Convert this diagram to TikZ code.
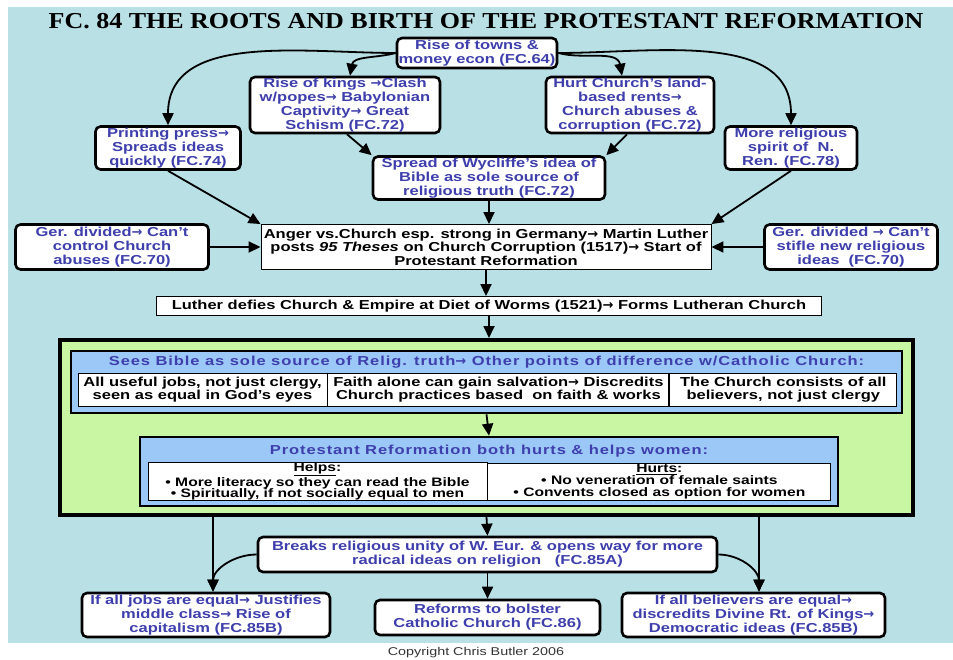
\documentclass[tikz,border=0pt]{standalone}
\usepackage{fontspec}
\setmainfont{Liberation Sans}[FakeStretch=1.27]
\newfontfamily\titlefont{Liberation Serif}[FakeStretch=1.14]
\newfontfamily\widefont{Liberation Sans}[FakeStretch=1.27, LetterSpace=7]
\newfontfamily\arrowfont{DejaVu Sans}
\usetikzlibrary{arrows.meta,positioning}
\definecolor{bgteal}{RGB}{185,224,228}
\definecolor{boxgreen}{RGB}{200,246,162}
\definecolor{boxblue}{RGB}{155,200,246}
\definecolor{inkblue}{RGB}{62,62,172}
\newcommand\bluefont{\bfseries\fontsize{13}{14}\selectfont}
\newcommand\blackfont{\bfseries\fontsize{13}{13.5}\selectfont}
\newcommand\cellfont{\bfseries\fontsize{13}{13.5}\selectfont}
\newcommand\ra{{\arrowfont\bfseries →}}

\begin{document}
\begin{tikzpicture}[x=1pt, y=1pt, >={Triangle[length=12pt,width=11pt]},
	main node/.style={draw, line width=2.6pt, rounded corners=5pt, fill=white, text=inkblue, font=\bluefont, align=center, inner sep=0pt},
	plain node/.style={draw, line width=0.9pt, fill=white, text=black, font=\blackfont, align=center, inner sep=0pt},
	cell node/.style={plain node, font=\cellfont},
	band node/.style={draw, line width=2.6pt, fill=boxblue, inner sep=0pt},
	band title/.style={text=inkblue, font=\widefont\bluefont},
	arrow/.style={->, line width=1.8pt}]
	\useasboundingbox (0,0) rectangle (953,-660);
	\fill[bgteal] (8,-7) rectangle (953,-643);

	\node[font=\titlefont\bfseries\fontsize{22.8}{24}\selectfont] (title) at (486,-21) {FC. 84 THE ROOTS AND BIRTH OF THE PROTESTANT REFORMATION};

	% roots
	\node[main node, minimum width=160pt, minimum height=30pt] (towns) at (477,-53) {Rise of towns \&\\money econ (FC.64)};
	\node[main node, minimum width=190pt, minimum height=56pt] (kings) at (345,-105) {Rise of kings \ra Clash\\w/popes\ra{} Babylonian\\Captivity\ra{} Great\\Schism (FC.72)};
	\node[main node, minimum width=168pt, minimum height=56pt] (hurt) at (630,-105) {Hurt Church's land-\\based rents\ra\\Church abuses \&\\corruption (FC.72)};
	\node[main node, minimum width=145pt, minimum height=43pt] (print) at (168,-148) {Printing press\ra\\Spreads ideas\\quickly (FC.74)};
	\node[main node, minimum width=132pt, minimum height=43pt] (spirit) at (791,-148) {More religious\\spirit of~~N.\\Ren. (FC.78)};
	\node[main node, minimum width=232pt, minimum height=43pt] (wyc) at (489,-178) {Spread of Wycliffe's idea of\\Bible as sole source of\\religious truth (FC.72)};

	% birth
	\node[plain node, minimum width=450pt, minimum height=45pt] (anger) at (486,-247) {Anger vs.Church esp. strong in Germany\ra{} Martin Luther\\posts \textit{95 Theses} on Church Corruption (1517)\ra{} Start of\\Protestant Reformation};
	\node[main node, minimum width=193pt, minimum height=45pt] (gerL) at (112,-247) {Ger. divided\ra{} Can't\\control Church\\abuses (FC.70)};
	\node[main node, minimum width=173pt, minimum height=45pt] (gerR) at (851,-247) {Ger. divided \ra{} Can't\\stifle new religious\\ideas~~(FC.70)};
	\node[plain node, minimum width=665pt, minimum height=19pt] (luther) at (489,-306) {Luther defies Church \& Empire at Diet of Worms (1521)\ra{} Forms Lutheran Church};

	% Lutheran ideas
	\node[draw, line width=4pt, fill=boxgreen, minimum width=853pt, minimum height=175pt] (green) at (486.5,-427.5) {};
	\node[band node, minimum width=831pt, minimum height=62pt] (blueA) at (486.5,-382) {};
	\node[band title] (blueAtitle) at (486.5,-362) {Sees Bible as sole source of Relig. truth\ra{} Other points of difference w/Catholic Church:};
	\node[cell node, minimum width=249pt, minimum height=33pt] (jobsCell) at (202.5,-389.5) {All useful jobs, not just clergy,\\seen as equal in God's eyes};
	\node[cell node, minimum width=341pt, minimum height=33pt, right=0pt of jobsCell] (faithCell) {Faith alone can gain salvation\ra{} Discredits\\Church practices based~ on faith \& works};
	\node[cell node, minimum width=227pt, minimum height=33pt, right=0pt of faithCell] (churchCell) {The Church consists of all\\believers, not just clergy};

	\node[band node, minimum width=698pt, minimum height=69pt] (blueB) at (489,-471.5) {};
	\node[band title] (blueBtitle) at (489,-451) {Protestant Reformation both hurts \& helps women:};
	\node[cell node, minimum width=339pt, minimum height=37pt, font=\bfseries\fontsize{12.3}{11.8}\selectfont] (helps) at (317.5,-481.5) {\underline{Helps}:\\• More literacy so they can read the Bible\\• Spiritually, if not socially equal to men};
	\node[cell node, minimum width=343pt, minimum height=37pt, font=\bfseries\fontsize{12.3}{11.8}\selectfont, right=0pt of helps] (hurts) {\underline{Hurts}:\\• No veneration of female saints\\• Convents closed as option for women};

	% results
	\node[main node, minimum width=459pt, minimum height=35pt] (breaks) at (487.5,-554.5) {Breaks religious unity of W. Eur. \& opens way for more\\radical ideas on religion~~~(FC.85A)};
	\node[main node, minimum width=248pt, minimum height=44pt] (jobs) at (206,-615) {If all jobs are equal\ra{} Justifies\\middle class\ra{} Rise of\\capitalism (FC.85B)};
	\node[main node, minimum width=225pt, minimum height=35pt] (reforms) at (487.5,-617.5) {Reforms to bolster\\Catholic Church (FC.86)};
	\node[main node, minimum width=263pt, minimum height=44pt] (believers) at (753.5,-615) {If all believers are equal\ra\\discredits Divine Rt. of Kings\ra\\Democratic ideas (FC.85B)};

	\node[font=\fontsize{11.3}{12}\selectfont, text=black!80] (copy) at (476,-653) {Copyright Chris Butler 2006};

	\path[arrow]
		(towns.west) edge[out=180, in=90] (print.north)
		(towns.west) edge[out=195, in=80] ([xshift=5pt]kings.north)
		(towns.east) edge[out=0, in=90] (spirit.north)
		(towns.east) edge[out=-15, in=100] ([xshift=-8pt]hurt.north)
		([xshift=2pt]kings.south) edge (wyc.north west)
		([xshift=-3pt]hurt.south) edge (wyc.north east)
		(print.south) edge (anger.north west)
		(spirit.south) edge (anger.north east)
		(wyc.south) edge (wyc.south |- anger.north)
		(gerL) edge (anger)
		(gerR) edge (anger)
		(anger.south) edge (anger.south |- luther.north)
		(luther.south) edge (luther.south |- green.north)
		(blueA.south) edge (blueB.north)
		(green.south) edge (breaks.north)
		(breaks.south) edge (reforms.north)
		([xshift=7pt]jobs.north |- green.south) edge ([xshift=7pt]jobs.north)
		([xshift=5.5pt]believers.north |- green.south) edge ([xshift=5.5pt]believers.north)
		(breaks.west) edge[out=180, in=90] ([xshift=7pt]jobs.north)
		(breaks.east) edge[out=0, in=90] ([xshift=5.5pt]believers.north);
\end{tikzpicture}
\end{document}
